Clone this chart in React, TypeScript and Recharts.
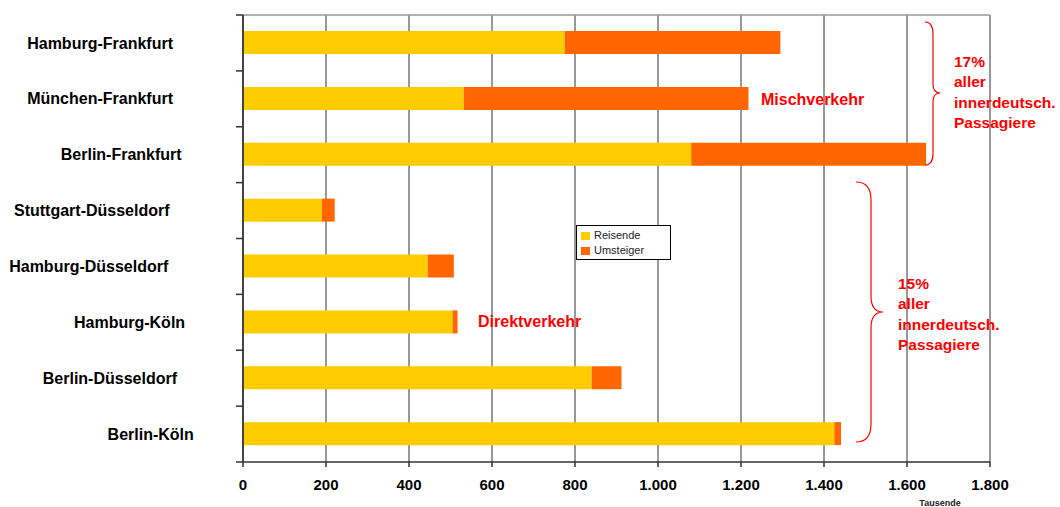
import React from "react";
import {
  BarChart,
  Bar,
  XAxis,
  YAxis,
  CartesianGrid,
  ReferenceLine,
} from "recharts";

const routes = [
  "Hamburg-Frankfurt",
  "München-Frankfurt",
  "Berlin-Frankfurt",
  "Stuttgart-Düsseldorf",
  "Hamburg-Düsseldorf",
  "Hamburg-Köln",
  "Berlin-Düsseldorf",
  "Berlin-Köln",
];

// Tausend Passagiere
const reisende = [775, 532, 1080, 190, 445, 505, 840, 1425];
const umsteiger = [520, 686, 566, 31, 63, 12, 72, 16];

const xTicks = [0, 200, 400, 600, 800, 1000, 1200, 1400, 1600, 1800];

const data = routes.map((route, i) => ({
  route,
  Reisende: reisende[i],
  Umsteiger: umsteiger[i],
}));

const YELLOW = "#FFCC00";
const ORANGE = "#FF6600";
const RED = "#FF0000";
const FONT = "'Liberation Sans', Arial, Helvetica, sans-serif";

const W = 1060;
const H = 507;
const MARGIN = { top: 15, right: 70, left: 0, bottom: 15 };
const X_AXIS_H = 30;
const PLOT_H = H - MARGIN.top - MARGIN.bottom - X_AXIS_H;
const BAND = PLOT_H / routes.length;
const LABEL_SIZE = 16;

let measureCtx: CanvasRenderingContext2D | null = null;
function textWidth(s: string) {
  if (!measureCtx && typeof document !== "undefined") {
    measureCtx = document.createElement("canvas").getContext("2d");
  }
  if (!measureCtx) return s.length * 8.6;
  measureCtx.font = `bold ${LABEL_SIZE}px ${FONT}`;
  return measureCtx.measureText(s).width;
}

const fmt = (v: number) => String(v).replace(/\B(?=(\d{3})+(?!\d))/g, ".");

// Category label plus boundary tick marks between the bands
function RouteTick(props: any) {
  const { x, y, payload, index } = props;
  const w = textWidth(payload.value);
  const right = x - 19 - 0.35 * w;
  return (
    <g>
      <line x1={x - 7} x2={x} y1={y - BAND / 2} y2={y - BAND / 2} stroke="#333" strokeWidth={1.5} />
      {index === routes.length - 1 && (
        <line x1={x - 7} x2={x} y1={y + BAND / 2} y2={y + BAND / 2} stroke="#333" strokeWidth={1.5} />
      )}
      <text
        x={right}
        y={y}
        dy="0.35em"
        textAnchor="end"
        fontFamily={FONT}
        fontWeight="bold"
        fontSize={LABEL_SIZE}
        fill="#000"
      >
        {payload.value}
      </text>
    </g>
  );
}

function LegendBox() {
  const items = [
    { name: "Reisende", color: YELLOW },
    { name: "Umsteiger", color: ORANGE },
  ];
  return (
    <div
      style={{
        position: "absolute",
        left: 576,
        top: 225,
        width: 95,
        height: 35,
        border: "1px solid #000",
        background: "#fff",
        padding: "2px 0 0 4px",
        boxSizing: "border-box",
        fontFamily: FONT,
        fontSize: 11,
        lineHeight: "15px",
        color: "#222",
      }}
    >
      {items.map((it) => (
        <div key={it.name} style={{ display: "flex", alignItems: "center", height: 15 }}>
          <span style={{ display: "inline-block", width: 9, height: 8, background: it.color, marginRight: 4 }} />
          {it.name}
        </div>
      ))}
    </div>
  );
}

export default function App() {
  return (
    <div style={{ position: "absolute", left: 0, top: 0, width: W, height: H, background: "#fff" }}>
      <BarChart width={W} height={H} data={data} layout="vertical" margin={MARGIN} barSize={23}>
        <CartesianGrid horizontal={false} vertical stroke="#333" strokeWidth={1} />
        <CartesianGrid
          vertical={false}
          horizontal
          horizontalCoordinatesGenerator={({ offset }: any) => [offset.top]}
          stroke="#999"
          strokeWidth={1.5}
        />
        <ReferenceLine x={1800} stroke="#999" strokeWidth={1.5} />
        <XAxis
          type="number"
          domain={[0, 1800]}
          ticks={xTicks}
          interval={0}
          height={X_AXIS_H}
          tickSize={5}
          tickMargin={12}
          tickFormatter={fmt}
          axisLine={{ stroke: "#333", strokeWidth: 1.5 }}
          tickLine={{ stroke: "#333", strokeWidth: 1.5 }}
          tick={{ fontFamily: FONT, fontWeight: "bold", fontSize: 15, fill: "#000" }}
        />
        <YAxis
          type="category"
          dataKey="route"
          width={243}
          interval={0}
          tickSize={0}
          tickMargin={0}
          tickLine={false}
          axisLine={{ stroke: "#444", strokeWidth: 2 }}
          tick={<RouteTick />}
        />
        <Bar dataKey="Reisende" stackId="a" fill={YELLOW} isAnimationActive={false} />
        <Bar dataKey="Umsteiger" stackId="a" fill={ORANGE} isAnimationActive={false} />
      </BarChart>

      <LegendBox />

      <svg
        width={W}
        height={H}
        style={{ position: "absolute", left: 0, top: 0, pointerEvents: "none" }}
        fontFamily={FONT}
        fontWeight="bold"
      >
        <text x={761} y={105} fontSize={16} fill={RED}>Mischverkehr</text>
        <text x={478} y={327} fontSize={16} fill={RED}>Direktverkehr</text>

        <path
          d="M925,22 Q933,22 933,34 L933,84 Q933,93 940,93 Q933,93 933,102 L933,153 Q933,165 925,165"
          fill="none"
          stroke={RED}
          strokeWidth={1.2}
        />
        <text fontSize={15.5} fill={RED}>
          <tspan x={954} y={67}>17%</tspan>
          <tspan x={954} y={87}>aller</tspan>
          <tspan x={954} y={108}>innerdeutsch.</tspan>
          <tspan x={954} y={128}>Passagiere</tspan>
        </text>

        <path
          d="M856,182 Q871,182 871,200 L871,296 Q871,312 883,312 Q871,312 871,328 L871,424 Q871,442 856,442"
          fill="none"
          stroke={RED}
          strokeWidth={1.2}
        />
        <text fontSize={15.5} fill={RED}>
          <tspan x={898} y={289}>15%</tspan>
          <tspan x={898} y={309}>aller</tspan>
          <tspan x={898} y={330}>innerdeutsch.</tspan>
          <tspan x={898} y={350}>Passagiere</tspan>
        </text>

        <text x={940} y={506} fontSize={9} textAnchor="middle" fill="#222">Tausende</text>
      </svg>
    </div>
  );
}
